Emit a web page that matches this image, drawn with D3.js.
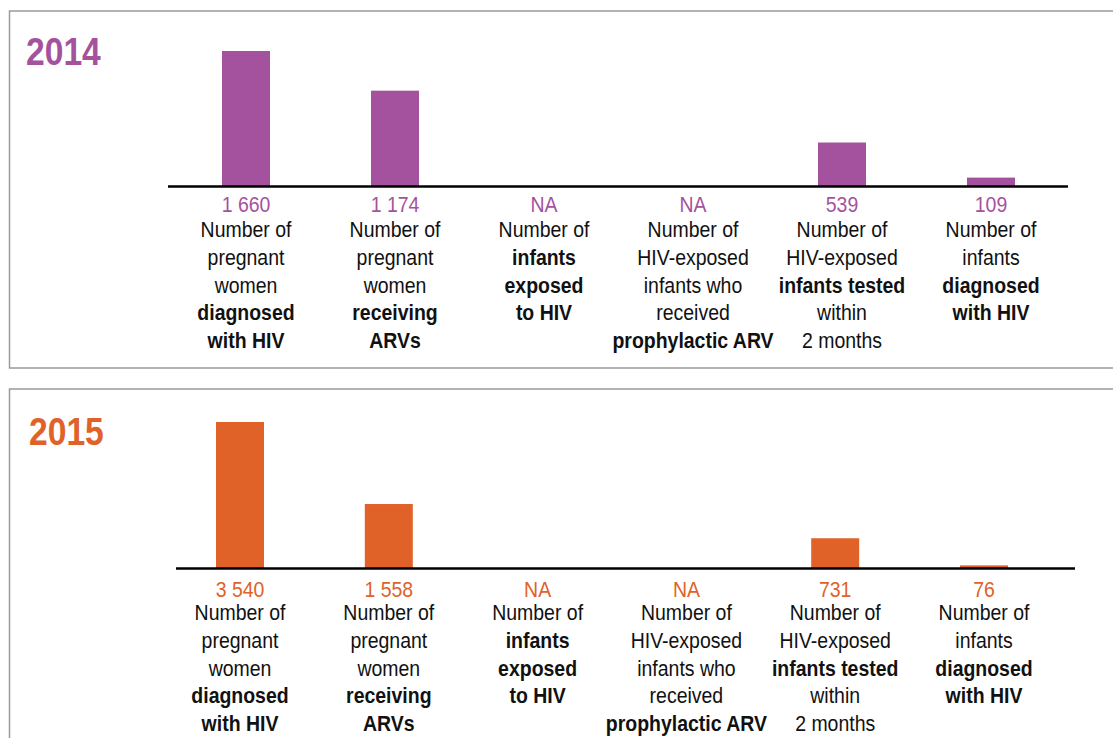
<!DOCTYPE html>
<html><head><meta charset="utf-8">
<script src="https://cdn.jsdelivr.net/npm/d3@7"></script>
<style>
html,body{margin:0;padding:0;background:#fff;}
svg{display:block;font-family:"Liberation Sans Narrow","Liberation Sans",Arial,sans-serif;}
</style></head>
<body>
<svg id="chart" width="1113" height="738"></svg>
<script>
// ---- data ----
const years = ["2014", "2015"];
const yearColors = ["#A5529E", "#E06228"];
const values2014 = [1660, 1174, null, null, 539, 109];
const values2015 = [3540, 1558, null, null, 731, 76];
const categoryLines = [
  ["Number of", "pregnant", "women", "diagnosed", "with HIV"],
  ["Number of", "pregnant", "women", "receiving", "ARVs"],
  ["Number of", "infants", "exposed", "to HIV"],
  ["Number of", "HIV-exposed", "infants who", "received", "prophylactic ARV"],
  ["Number of", "HIV-exposed", "infants tested", "within", "2 months"],
  ["Number of", "infants", "diagnosed", "with HIV"]
];
const boldLines = [[3, 4], [3, 4], [1, 2, 3], [4], [2], [2, 3]];
const naLabel = "NA";

// ---- layout ----
const panels = [
  {values: values2014, boxY: 11, titleX: 26, titleY: 65, axisY: 186.5, topY: 51,
   axisX0: 168, axisX1: 1068, catX0: 246, catX1: 991, valueY: 212, labelY: 237},
  {values: values2015, boxY: 389, titleX: 29, titleY: 445, axisY: 568.5, topY: 422,
   axisX0: 176, axisX1: 1075, catX0: 240, catX1: 984, valueY: 597, labelY: 620}
];
const lineH = 27.8;
const barW = 48;
const sx = 0.885; // horizontal condensing of the text
const fmt = d3.formatLocale({decimal: ".", thousands: " ", grouping: [3], currency: ["", ""]}).format(",d");

const svg = d3.select("#chart");

function condensed(parent, cx, cy) {
  return parent.append("g")
    .attr("transform", `translate(${cx},${cy}) scale(${sx},1)`)
    .append("text");
}

panels.forEach((p, pi) => {
  const color = yearColors[pi];
  const g = svg.append("g");
  g.append("rect")
    .attr("x", 9.5).attr("y", p.boxY)
    .attr("width", 1120).attr("height", 357)
    .attr("fill", "none").attr("stroke", "#9a9a9a").attr("stroke-width", 1.5);

  condensed(g, p.titleX, p.titleY)
    .attr("fill", color).attr("font-size", 38).attr("font-weight", "bold")
    .text(years[pi]);

  const idx = d3.range(categoryLines.length);
  const x = d3.scalePoint().domain(idx).range([p.catX0, p.catX1]);
  const y = d3.scaleLinear().domain([0, d3.max(p.values)]).range([p.axisY, p.topY]);

  g.selectAll("rect.bar")
    .data(idx.filter(i => p.values[i] != null))
    .join("rect").attr("class", "bar")
    .attr("x", i => x(i) - barW / 2)
    .attr("y", i => y(p.values[i]))
    .attr("width", barW)
    .attr("height", i => y(0) - y(p.values[i]))
    .attr("fill", color);

  g.append("line")
    .attr("x1", p.axisX0).attr("x2", p.axisX1)
    .attr("y1", p.axisY).attr("y2", p.axisY)
    .attr("stroke", "#000").attr("stroke-width", 2.5);

  idx.forEach(i => {
    condensed(g, x(i), p.valueY)
      .attr("text-anchor", "middle")
      .attr("fill", color).attr("font-size", 22)
      .text(p.values[i] == null ? naLabel : fmt(p.values[i]));

    const t = condensed(g, x(i), p.labelY)
      .attr("text-anchor", "middle")
      .attr("fill", "#111").attr("font-size", 22);
    categoryLines[i].forEach((ln, li) => {
      t.append("tspan")
        .attr("x", 0).attr("y", li * lineH)
        .attr("font-weight", boldLines[i].includes(li) ? "bold" : "normal")
        .text(ln);
    });
  });
});
</script>
</body></html>
